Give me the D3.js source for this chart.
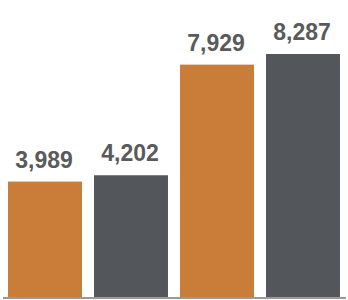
<!DOCTYPE html>
<html>
<head>
<meta charset="utf-8">
<script src="https://cdn.jsdelivr.net/npm/d3@7"></script>
<style>
  body { margin: 0; background: #fff; }
  svg { display: block; }
  .label { font-family: "Liberation Sans", Arial, sans-serif; font-weight: bold; font-size: 23px; fill: #5a5a5a; }
</style>
</head>
<body>
<svg id="chart"></svg>
<script>
var categories = ['A1', 'B1', 'A2', 'B2'];
var values = [3989, 4202, 7929, 8287];
var colors = ['#c97d38', '#53565a', '#c97d38', '#53565a'];

var width = 348, height = 300;
var baseY = 297;
var svg = d3.select('#chart').attr('width', width).attr('height', height);

var x = d3.scaleBand().domain(categories).range([2, 346]).paddingInner(0.14).paddingOuter(0.07);
var y = d3.scaleLinear().domain([0, 8287]).range([300, 54]);

var data = categories.map(function(c, i) { return { cat: c, value: values[i], color: colors[i] }; });

svg.selectAll('.bar').data(data).enter().append('rect')
  .attr('class', 'bar')
  .attr('x', function(d) { return x(d.cat); })
  .attr('y', function(d) { return y(d.value); })
  .attr('width', x.bandwidth())
  .attr('height', function(d) { return baseY - y(d.value); })
  .attr('fill', function(d) { return d.color; });

svg.selectAll('.label').data(data).enter().append('text')
  .attr('class', 'label')
  .attr('x', function(d) { return x(d.cat) + x.bandwidth() / 2 - 1; })
  .attr('y', function(d) { return y(d.value) - 14; })
  .attr('text-anchor', 'middle')
  .text(function(d) { return d3.format(',')(d.value); });

// baseline
svg.append('line')
  .attr('x1', 3).attr('x2', 346)
  .attr('y1', baseY + 1).attr('y2', baseY + 1)
  .attr('stroke', '#9a9a9a')
  .attr('stroke-width', 2);
</script>
</body>
</html>
